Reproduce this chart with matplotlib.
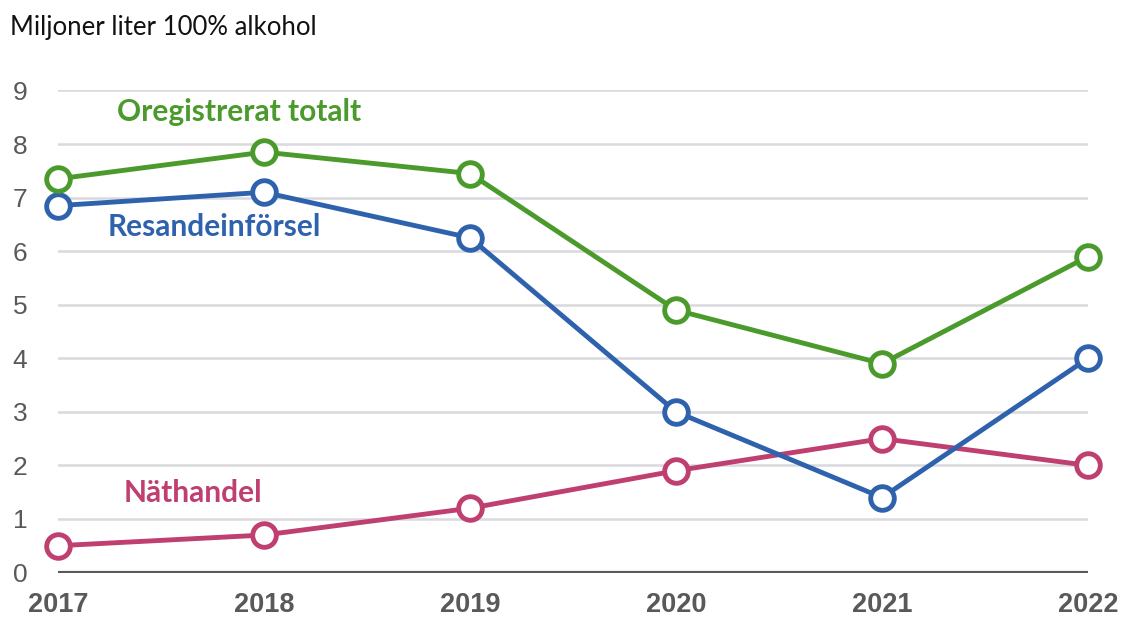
import matplotlib
matplotlib.use("Agg")
import matplotlib.pyplot as plt

years = [2017, 2018, 2019, 2020, 2021, 2022]
oregistrerat = [7.35, 7.85, 7.45, 4.9, 3.9, 5.9]
resande = [6.85, 7.1, 6.25, 3.0, 1.4, 4.0]
nathandel = [0.5, 0.7, 1.2, 1.9, 2.5, 2.0]
yticks = [0, 1, 2, 3, 4, 5, 6, 7, 8, 9]

green = "#4b9a2c"
blue = "#2f62ad"
pink = "#be3f70"
grey = "#595959"

fig = plt.figure(figsize=(11.21, 6.19), dpi=100)
ax = fig.add_axes([0.0517, 0.0751, 0.9189, 0.7787])
ax.set_xlim(2017, 2022)
ax.set_ylim(0, 9)

for v in yticks[1:]:
    ax.axhline(v, color="#d9d9de", lw=1.8, zorder=0)
ax.axhline(0, color=grey, lw=3, zorder=1)

for vals, c in [(nathandel, pink), (resande, blue), (oregistrerat, green)]:
    ax.plot(years, vals, color=c, lw=3.5, marker="o", ms=17, mfc="white",
            mec=c, mew=3.5, clip_on=False, zorder=3)

for s in ax.spines.values():
    s.set_visible(False)
ax.set_yticks(yticks)
ax.set_yticklabels([str(v) for v in yticks], fontsize=19, color=grey,
                   family="Liberation Sans")
ax.set_xticks(years)
ax.set_xticklabels([str(y) for y in years], fontsize=19.5, color=grey,
                   family="Liberation Sans", fontweight="bold")
ax.tick_params(axis="y", length=0, pad=22)
ax.tick_params(axis="x", length=0, pad=14)

lab = dict(family="Lato", fontweight="bold", fontsize=21.5, ha="center", va="center")
fig.text(239/1121, 1-112/619, "Oregistrerat totalt", color=green, **lab)
fig.text(214/1121, 1-227/619, "Resandeinförsel", color=blue, **lab)
fig.text(193/1121, 1-493/619, "Näthandel", color=pink, **lab)

fig.text(10/1121, 1-27/619, "Miljoner liter 100% alkohol", fontsize=18.5,
         family="Lato", color="#111111", ha="left", va="center")

fig.savefig("out.png", dpi=100)
